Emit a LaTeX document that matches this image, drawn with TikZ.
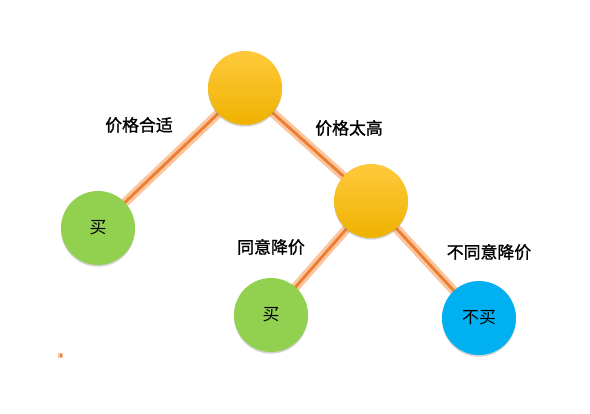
\documentclass[tikz,border=0pt]{standalone}
\usepackage{fontspec}
\newfontfamily\cjk{Noto Sans CJK SC}
\newfontfamily\cjkbold{Noto Sans CJK SC}[FakeBold=1.3]
\usetikzlibrary{shadows,backgrounds}
\definecolor{edgeorange}{HTML}{ED7D31}
\definecolor{edgeglow}{HTML}{F9C6A0}
\definecolor{buygreen}{HTML}{92D050}
\definecolor{nobuyblue}{HTML}{00B0F0}
\definecolor{goldtop}{HTML}{FFC93C}
\definecolor{goldbot}{HTML}{EFB200}
\begin{document}
\begin{tikzpicture}[x=0.025cm,y=-0.025cm,
    every node/.style={font=\cjk},
    ball/.style={circle,minimum size=1.85cm,inner sep=0pt,
      drop shadow={shadow xshift=0pt,shadow yshift=-1.2pt,opacity=0.35}},
    askball/.style={ball,top color=goldtop,bottom color=goldbot},
    buyball/.style={ball,fill=buygreen,font=\cjk\fontsize{12}{14}\selectfont},
    nobuyball/.style={ball,fill=nobuyblue,font=\cjk\fontsize{12}{14}\selectfont},
    branch/.style={font=\cjkbold\fontsize{12}{14}\selectfont},
    glow/.style={edgeglow,line width=6.5pt},
    core/.style={edgeorange,line width=2pt}]
    \useasboundingbox (0,0) rectangle (590,413);

    % Decision nodes
    \node[askball] (price) at (245,88) {};
    \node[askball] (cut) at (371,201) {};

    % Outcomes
    \node[buyball] (buyA) at (98,228) {买};
    \node[buyball] (buyB) at (271,315) {买};
    \node[nobuyball] (nobuy) at (479,318) {不买};

    % Branches
    \begin{scope}[on background layer]
      \foreach \a/\b in {price/buyA,price/cut,cut/buyB,cut/nobuy} {
        \draw[glow] (\a.center) -- (\b.center);
        \draw[core] (\a.center) -- (\b.center);
      }
    \end{scope}

    % Branch labels
    \node[branch] (fair) at (139,125) {价格合适};
    \node[branch] (high) at (349,128) {价格太高};
    \node[branch] (agree) at (271,247) {同意降价};
    \node[branch] (refuse) at (489,252) {不同意降价};

    % Stray mark
    \fill[edgeglow] (58,353) rectangle (63,358);
    \fill[edgeorange] (59.5,354) rectangle (61.5,357);
\end{tikzpicture}
\end{document}
